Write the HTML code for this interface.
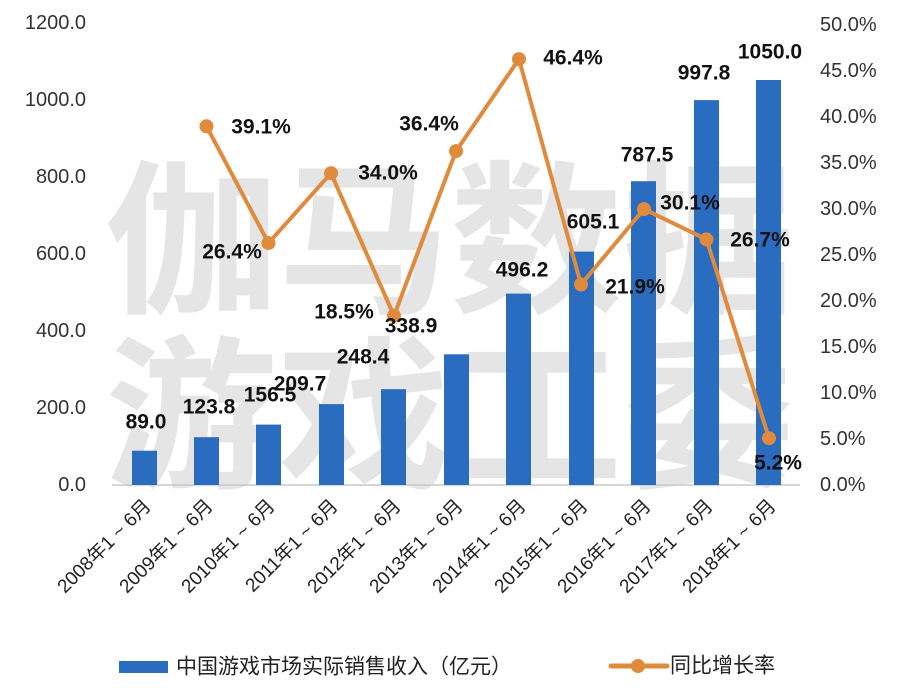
<!DOCTYPE html>
<html><head><meta charset="utf-8"><style>
html,body{margin:0;padding:0;background:#fff;}
svg{display:block;}
text{font-family:"Liberation Sans","Noto Sans CJK SC",sans-serif;}
.v{font-size:21px;font-weight:bold;fill:#111;text-anchor:middle;dominant-baseline:central;}
.ax{font-size:20px;fill:#333;dominant-baseline:central;}
.xl{font-size:19px;fill:#222;text-anchor:end;}
</style></head><body>
<svg width="900" height="688" viewBox="0 0 900 688" xmlns="http://www.w3.org/2000/svg">
<g fill="#e5e5e5" font-size="165" font-weight="bold" font-family="'Noto Sans CJK SC',sans-serif">
<text x="105" y="300" textLength="690" lengthAdjust="spacingAndGlyphs">伽马数据</text>
<text x="105" y="475" textLength="690" lengthAdjust="spacingAndGlyphs">游戏工委</text>
</g>
<g class="ax" text-anchor="end">
<text x="86" y="485">0.0</text><text x="86" y="408">200.0</text><text x="86" y="331">400.0</text>
<text x="86" y="254">600.0</text><text x="86" y="177">800.0</text><text x="86" y="100">1000.0</text><text x="86" y="23">1200.0</text>
</g>
<g class="ax" text-anchor="start">
<text x="820" y="485">0.0%</text><text x="820" y="439">5.0%</text><text x="820" y="393">10.0%</text>
<text x="820" y="347">15.0%</text><text x="820" y="301">20.0%</text><text x="820" y="255">25.0%</text>
<text x="820" y="209">30.0%</text><text x="820" y="163">35.0%</text><text x="820" y="117">40.0%</text>
<text x="820" y="71">45.0%</text><text x="820" y="25">50.0%</text>
</g>
<line x1="112" y1="485" x2="800" y2="485" stroke="#c8c8c8" stroke-width="1.5"/>
<g fill="#2a6cbf">
<rect x="132" y="450.7" width="25" height="34.3"/>
<rect x="194" y="437.2" width="25" height="47.8"/>
<rect x="256" y="424.6" width="25" height="60.4"/>
<rect x="319" y="404.1" width="25" height="80.9"/>
<rect x="381" y="389.2" width="25" height="95.8"/>
<rect x="444" y="354.3" width="25" height="130.7"/>
<rect x="506" y="293.6" width="25" height="191.4"/>
<rect x="569" y="251.6" width="25" height="233.4"/>
<rect x="631" y="181.2" width="25" height="303.8"/>
<rect x="694" y="100.1" width="25" height="384.9"/>
<rect x="756" y="80.0" width="25" height="405"/>
</g>
<polyline fill="none" stroke="#e08a3c" stroke-width="4" stroke-linejoin="round" points="206.5,126.3 268.5,243.1 331,173.2 394,315.8 456,151.1 519,59.1 581,284.5 644,209.1 706.5,239.4 769,438.2"/>
<g fill="#e08a3c">
<circle cx="206.5" cy="126.3" r="7"/><circle cx="268.5" cy="243.1" r="7"/><circle cx="331" cy="173.2" r="7"/>
<circle cx="394" cy="315.8" r="7"/><circle cx="456" cy="151.1" r="7"/><circle cx="519" cy="59.1" r="7"/>
<circle cx="581" cy="284.5" r="7"/><circle cx="644" cy="209.1" r="7"/><circle cx="706.5" cy="239.4" r="7"/><circle cx="769" cy="438.2" r="7"/>
</g>
<g class="v">
<text x="146" y="422">89.0</text><text x="209" y="407">123.8</text><text x="270" y="395">156.5</text>
<text x="300" y="384">209.7</text><text x="363" y="357">248.4</text><text x="411" y="326">338.9</text>
<text x="522" y="270">496.2</text><text x="593" y="222">605.1</text><text x="647" y="155">787.5</text>
<text x="704" y="73">997.8</text><text x="770" y="52">1050.0</text>
<text x="261" y="127">39.1%</text><text x="232" y="252">26.4%</text><text x="388" y="173">34.0%</text>
<text x="344" y="312">18.5%</text><text x="429" y="124">36.4%</text><text x="573" y="58">46.4%</text>
<text x="635" y="287">21.9%</text><text x="690" y="203">30.1%</text><text x="760" y="240">26.7%</text><text x="778" y="463">5.2%</text>
</g>
<g class="xl">
<text transform="translate(152,507) rotate(-45)">2008年1 ~ 6月</text>
<text transform="translate(214,507) rotate(-45)">2009年1 ~ 6月</text>
<text transform="translate(276,507) rotate(-45)">2010年1 ~ 6月</text>
<text transform="translate(339,507) rotate(-45)">2011年1 ~ 6月</text>
<text transform="translate(402,507) rotate(-45)">2012年1 ~ 6月</text>
<text transform="translate(464,507) rotate(-45)">2013年1 ~ 6月</text>
<text transform="translate(527,507) rotate(-45)">2014年1 ~ 6月</text>
<text transform="translate(589,507) rotate(-45)">2015年1 ~ 6月</text>
<text transform="translate(652,507) rotate(-45)">2016年1 ~ 6月</text>
<text transform="translate(714,507) rotate(-45)">2017年1 ~ 6月</text>
<text transform="translate(777,507) rotate(-45)">2018年1 ~ 6月</text>
</g>
<rect x="119" y="661" width="49" height="12" fill="#2a6cbf"/>
<text x="176" y="667" font-size="21" fill="#222" dominant-baseline="central">中国游戏市场实际销售收入（亿元）</text>
<line x1="611" y1="666" x2="667" y2="666" stroke="#e08a3c" stroke-width="5" stroke-linecap="round"/>
<circle cx="638" cy="666" r="7" fill="#e08a3c"/>
<text x="670" y="666" font-size="21" fill="#222" dominant-baseline="central">同比增长率</text>
</svg>
</body></html>
